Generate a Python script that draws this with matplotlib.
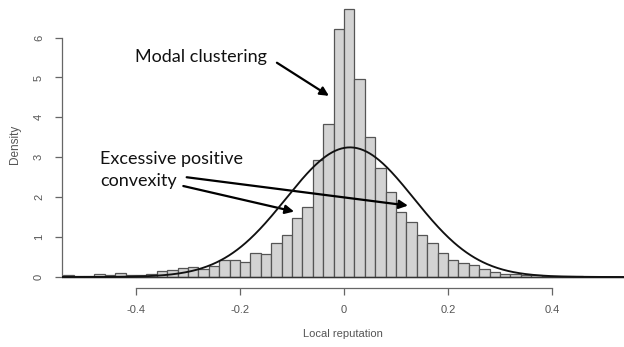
import numpy as np
import matplotlib
matplotlib.use("Agg")
from matplotlib import pyplot as plt

# histogram of local reputation (density), bins of 0.02 starting at -0.54
bin_start = -0.54
bin_width = 0.02
density = [0.06, 0.03, 0.025, 0.07, 0.06, 0.09, 0.06, 0.06, 0.08, 0.15, 0.18, 0.23,
           0.24, 0.20, 0.28, 0.43, 0.42, 0.38, 0.60, 0.57, 0.86, 1.05, 1.47, 1.75, 2.92,
           3.83, 6.22, 6.72, 4.96, 3.52, 2.72, 2.14, 1.62, 1.39, 1.05, 0.84, 0.60,
           0.43, 0.36, 0.30, 0.20, 0.13, 0.08, 0.075, 0.06, 0.04, 0.03,
           0.02, 0.02, 0.015, 0.01, 0.005, 0.005, 0.01]
# fitted normal curve
norm_mean = 0.0115
norm_sd = 0.1228

xticks = [-0.4, -0.2, 0.0, 0.2, 0.4]
xticklabels = ["-0.4", "-0.2", "0", "0.2", "0.4"]
yticks = [0, 1, 2, 3, 4, 5, 6]

edges = bin_start + bin_width * np.arange(len(density) + 1)
xs = np.linspace(-0.6, 0.6, 600)
pdf = np.exp(-0.5 * ((xs - norm_mean) / norm_sd) ** 2) / (norm_sd * np.sqrt(2 * np.pi))

plt.rcParams['font.family'] = ['Liberation Sans', 'DejaVu Sans']
fig = plt.figure(figsize=(6.24, 3.47), dpi=100)
ax = fig.add_axes([62 / 624, 59 / 347, 1 - 62 / 624, 1 - 59 / 347])

ax.bar(edges[:-1], density, width=bin_width, align='edge',
       color='#d3d3d3', edgecolor='#555555', linewidth=0.9, zorder=2)
ax.axhline(0, color='#333333', lw=1.0, zorder=3)
ax.plot(xs, pdf, color='#111111', lw=1.35, zorder=4)

ax.set_xlim(-0.5423, 0.5385)
ax.set_ylim(-0.2757, 6.942)

for s in ['top', 'right']:
    ax.spines[s].set_visible(False)
ax.spines['left'].set_bounds(0, 6)
ax.spines['bottom'].set_bounds(-0.4, 0.4)
for s in ['left', 'bottom']:
    ax.spines[s].set_color('#666666')
    ax.spines[s].set_linewidth(0.9)

ax.set_xticks(xticks)
ax.set_xticklabels(xticklabels)
ax.set_yticks(yticks)
ax.set_yticklabels([str(v) for v in yticks], rotation=90, va='center')
ax.tick_params(axis='both', colors='#666666', labelcolor='#555555',
               labelsize=8, length=5, width=0.9)
ax.tick_params(axis='x', pad=7)
ax.tick_params(axis='y', pad=8)

ax.set_xlabel("Local reputation", fontsize=8, color='#555555', labelpad=10.5)
ax.set_ylabel("Density", fontsize=8.5, color='#555555', labelpad=9.5)

arrow = dict(arrowstyle='-|>', color='black', lw=1.6, mutation_scale=13,
             shrinkA=0, shrinkB=0)
ax.text(-0.402, 5.52, "Modal clustering", family='Lato', fontsize=13,
        ha='left', va='center', color='#111111')
ax.annotate("", xy=(-0.029, 4.54), xytext=(-0.129, 5.37), arrowprops=arrow)

ax.text(-0.469, 2.68, "Excessive positive\nconvexity", family='Lato', fontsize=13,
        ha='left', va='center', color='#111111', linespacing=1.45)
ax.annotate("", xy=(0.123, 1.79), xytext=(-0.3025, 2.50), arrowprops=arrow)
ax.annotate("", xy=(-0.096, 1.64), xytext=(-0.309, 2.28), arrowprops=arrow)

fig.savefig("out.png", dpi=100)
